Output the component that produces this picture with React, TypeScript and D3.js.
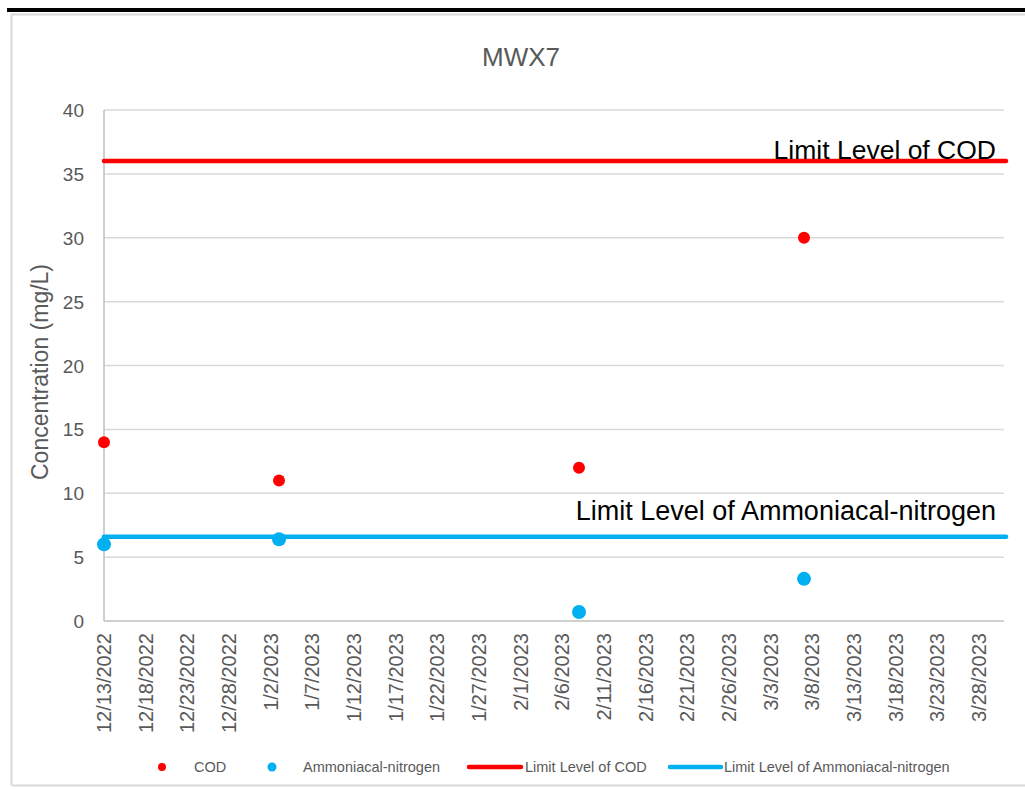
import React from 'react';
import * as d3 from 'd3';

const codDates = ['2022-12-13', '2023-01-03', '2023-02-08', '2023-03-07'];
const codValues = [14, 11, 12, 30];
const nh3Dates = ['2022-12-13', '2023-01-03', '2023-02-08', '2023-03-07'];
const nh3Values = [6, 6.4, 0.7, 3.3];
const codLimit = 36;
const nh3Limit = 6.6;
const yTicks = [0, 5, 10, 15, 20, 25, 30, 35, 40];
const xStart = '2022-12-13';
const xEnd = '2023-03-31';

const GRAY = '#595959';
const RED = '#FF0000';
const BLUE = '#00B0F0';
const FONT = '"Liberation Sans", Arial, sans-serif';

const parse = d3.utcParse('%Y-%m-%d');
const fmt = (d: Date) => `${d.getUTCMonth() + 1}/${d.getUTCDate()}/${d.getUTCFullYear()}`;

const App = () => {
    const width = 1025;
    const height = 789;

    const x = d3.scaleUtc()
        .domain([parse(xStart)!, parse(xEnd)!])
        .range([104, 1004]);
    const y = d3.scaleLinear()
        .domain([0, 40])
        .range([621, 110]);

    // excel steps the date axis by 5 days starting from the first date
    const ticks: Date[] = [];
    for (let d = parse(xStart)!; d <= parse(xEnd)!; d = d3.utcDay.offset(d, 5)) ticks.push(d);

    const [x0, x1] = x.range();

    return (
        <svg width={width} height={height} style={{ position: 'absolute', left: 0, top: 0 }}>
            <rect x={0} y={0} width={width} height={height} fill="white" />
            <rect x={7} y={8} width={1018} height={4} fill="black" />
            <path d="M11.5,785 V14.5 H1025" fill="none" stroke="#D9D9D9" strokeWidth={2} />
            <line x1={11.5} x2={1025} y1={785.5} y2={785.5} stroke="#D9D9D9" strokeWidth={2} />

            <text x={521} y={66} textAnchor="middle" fontFamily={FONT} fontSize={26} fill={GRAY}>MWX7</text>

            {yTicks.map(t => (
                <g key={t}>
                    {t > 0 && <line x1={x0} x2={x1} y1={y(t)} y2={y(t)} stroke="#D9D9D9" strokeWidth={1.5} />}
                    <text x={84} y={y(t) + 7} textAnchor="end" fontFamily={FONT} fontSize={19} fill={GRAY}>{t}</text>
                </g>
            ))}
            <line x1={x0} x2={x0} y1={y(40)} y2={y(0)} stroke="#BFBFBF" strokeWidth={1.5} />
            <line x1={x0} x2={x1} y1={y(0)} y2={y(0)} stroke="#BFBFBF" strokeWidth={1.5} />

            {ticks.map(d => (
                <text key={d.toISOString()} transform={`translate(${x(d) + 7},${633}) rotate(-90)`}
                    textAnchor="end" fontFamily={FONT} fontSize={20} fill={GRAY}>{fmt(d)}</text>
            ))}

            <text transform={`translate(48,372) rotate(-90)`} textAnchor="middle" fontFamily={FONT}
                fontSize={23} fill={GRAY}>Concentration (mg/L)</text>

            <line x1={x0} x2={x1 + 2} y1={y(codLimit)} y2={y(codLimit)} stroke={RED} strokeWidth={4.5} strokeLinecap="round" />
            <line x1={x0} x2={x1 + 2} y1={y(nh3Limit)} y2={y(nh3Limit)} stroke={BLUE} strokeWidth={4.5} strokeLinecap="round" />
            <text x={996} y={y(codLimit) - 2} textAnchor="end" fontFamily={FONT} fontSize={26.5} fill="black">Limit Level of COD</text>
            <text x={996} y={y(nh3Limit) - 17} textAnchor="end" fontFamily={FONT} fontSize={27} fill="black">Limit Level of Ammoniacal-nitrogen</text>

            {codDates.map((d, i) => (
                <circle key={'c' + i} cx={x(parse(d)!)} cy={y(codValues[i])} r={6} fill={RED} />
            ))}
            {nh3Dates.map((d, i) => (
                <circle key={'n' + i} cx={x(parse(d)!)} cy={y(nh3Values[i])} r={7} fill={BLUE} />
            ))}

            <g fontFamily={FONT} fontSize={14.5} fill={GRAY}>
                <circle cx={162} cy={767} r={4} fill={RED} />
                <text x={194} y={772}>COD</text>
                <circle cx={272} cy={767} r={4.5} fill={BLUE} />
                <text x={303} y={772}>Ammoniacal-nitrogen</text>
                <line x1={469} x2={521} y1={767} y2={767} stroke={RED} strokeWidth={4.5} strokeLinecap="round" />
                <text x={525} y={772}>Limit Level of COD</text>
                <line x1={670} x2={721} y1={767} y2={767} stroke={BLUE} strokeWidth={4.5} strokeLinecap="round" />
                <text x={724} y={772}>Limit Level of Ammoniacal-nitrogen</text>
            </g>
        </svg>
    );
};

export default App;
